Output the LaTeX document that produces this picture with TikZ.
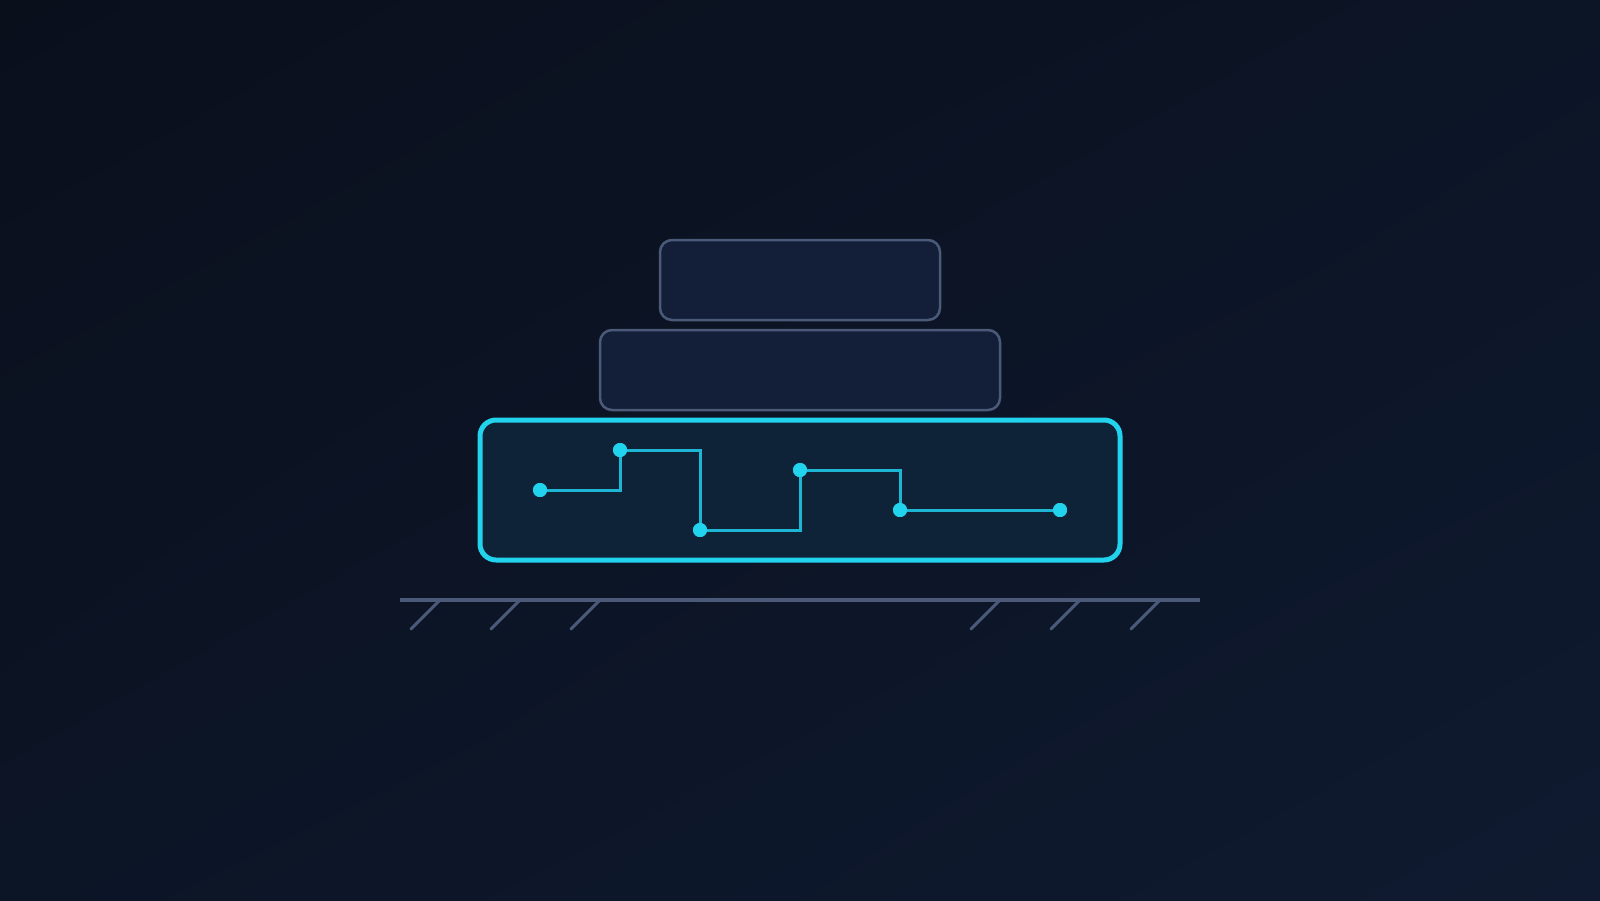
\documentclass[tikz,border=0pt]{standalone}
\usetikzlibrary{positioning,shadings}
\definecolor{bgTL}{HTML}{0A0F1C}
\definecolor{bgMid}{HTML}{0C1526}
\definecolor{bgBR}{HTML}{0F1A30}
\definecolor{slab}{HTML}{131F38}
\definecolor{slabedge}{HTML}{4A5A78}
\definecolor{basefill}{HTML}{0E2238}
\definecolor{cyanedge}{HTML}{22D3EE}
\definecolor{trace}{HTML}{1FB6D6}
\tikzset{
  slabbox/.style={draw=slabedge, fill=slab, line width=2.5pt, rounded corners=12pt, minimum width=#1},
  basebox/.style={draw=cyanedge, fill=basefill, line width=5pt, rounded corners=16pt},
  tracedot/.style={circle, fill=cyanedge, inner sep=0pt, minimum size=14pt},
  traceline/.style={draw=trace, line width=3pt},
  groundline/.style={draw=slabedge, line width=3.5pt},
  hatchline/.style={draw=slabedge, line width=3pt, line cap=round}
}
\begin{document}
\begin{tikzpicture}[x=1pt,y=-1pt]
\useasboundingbox (0,0) rectangle (1600,900);
\shade[upper left=bgTL, upper right=bgMid, lower left=bgMid, lower right=bgBR] (0,0) rectangle (1600,900);
% slabs
\node[slabbox=280pt, minimum height=80pt, inner sep=0pt] (top) at (800,280) {};
\node[slabbox=400pt, minimum height=80pt, inner sep=0pt] (mid) at (800,370) {};
\node[basebox, minimum width=640pt, minimum height=140pt, inner sep=0pt] (base) at (800,490) {};
% circuit
\node[tracedot] (p1) at (540,490) {};
\node[tracedot] (p2) at (620,450) {};
\node[tracedot] (p3) at (700,530) {};
\node[tracedot] (p4) at (800,470) {};
\node[tracedot] (p5) at (900,510) {};
\node[tracedot] (p6) at (1060,510) {};
\coordinate (c1) at (620,490);
\coordinate (c2) at (700,450);
\coordinate (c3) at (800,530);
\coordinate (c4) at (900,470);
\draw[traceline] (p1.center) -- (c1) -- (p2.center) -- (c2) -- (p3.center) -- (c3) -- (p4.center) -- (c4) -- (p5.center) -- (p6.center);
\foreach \p in {p1,p2,p3,p4,p5,p6} \node[tracedot] at (\p) {};
% ground
\coordinate (g1) at (400,600);
\coordinate (g2) at (1200,600);
\draw[groundline] (g1) -- (g2);
\foreach \x in {440,520,600,1000,1080,1160} {
  \coordinate (h\x) at (\x,600);
  \draw[hatchline] (h\x) -- ++(-29,29);
}
\end{tikzpicture}
\end{document}
